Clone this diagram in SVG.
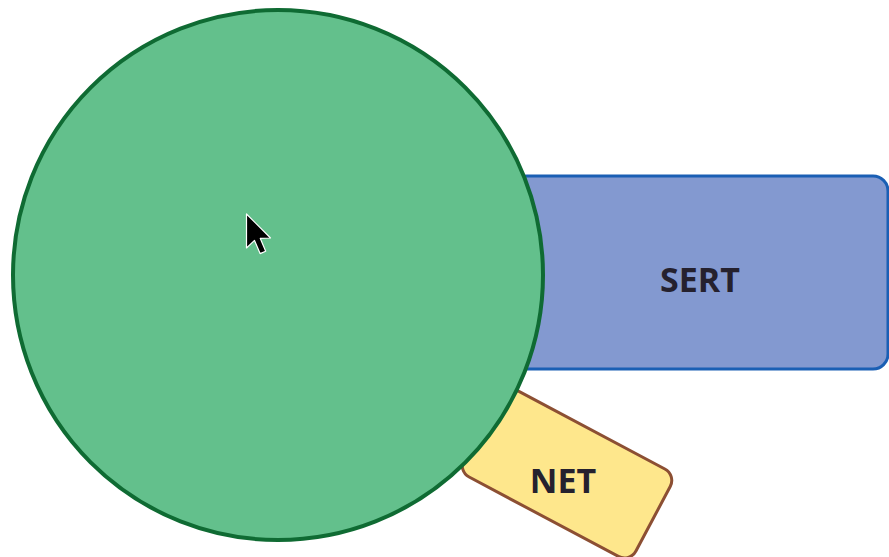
<svg xmlns="http://www.w3.org/2000/svg" width="889" height="557" viewBox="0 0 889 557">
<style>
.lbl{font-family:"Open Sans","Noto Sans","DejaVu Sans",sans-serif;font-weight:700;font-size:34px;fill:#25212e;text-anchor:middle;dominant-baseline:central}
</style>
<rect width="889" height="557" fill="#ffffff"/>
<g id="connectors"></g>
<g id="node-net">
<rect x="-97.5" y="-49.5" width="195" height="99" rx="13" fill="#fee78c" stroke="#8c4f33" stroke-width="3" transform="translate(567,473) rotate(28)"/>
<text class="lbl" x="563" y="480">NET</text>
</g>
<g id="node-sert">
<rect x="512" y="176" width="376" height="193" rx="15" fill="#8399d0" stroke="#1a5fb4" stroke-width="3"/>
<text class="lbl" x="700" y="279">SERT</text>
</g>
<g id="node-main">
<circle cx="278" cy="275" r="265" fill="#63c08c" stroke="#0f6b33" stroke-width="4"/>
</g>
<g id="cursor">
<path d="M0,0 L0,17 L4,13.2 L6.8,19.8 L9.6,18.6 L6.9,12.2 L12,12 Z" transform="translate(246.5,214) scale(2)" fill="#000" stroke="#fff" stroke-width="0.6" stroke-linejoin="round"/>
</g>
</svg>
